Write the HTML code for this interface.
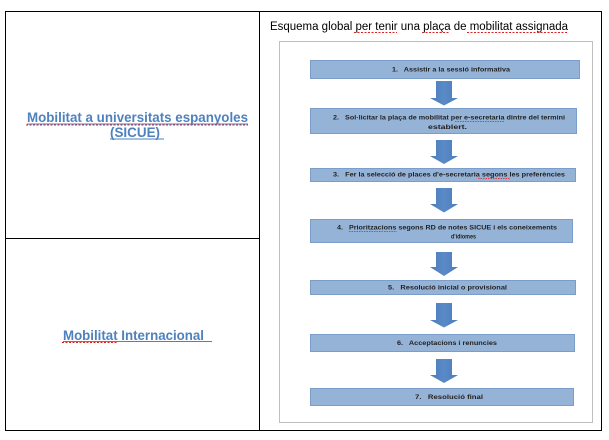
<!DOCTYPE html>
<html><head><meta charset="utf-8"><style>
html,body{margin:0;padding:0;background:#fff;width:609px;height:440px;overflow:hidden}
svg{display:block}
text{font-family:"Liberation Sans",Arial,sans-serif;white-space:pre}
.bt{font-size:6.5px;font-weight:bold;fill:#222}
.lk{font-size:13.5px;font-weight:bold;fill:#4f81bd}
</style></head><body>
<svg width="609" height="440" viewBox="0 0 609 440" xmlns="http://www.w3.org/2000/svg">
<defs>
<linearGradient id="ag" x1="0" y1="0" x2="1" y2="0">
<stop offset="0" stop-color="#4a7cba"/><stop offset="0.5" stop-color="#5a8bc7"/><stop offset="1" stop-color="#4a7cba"/>
</linearGradient>
<symbol id="arrow" viewBox="0 0 27 25" overflow="visible">
</symbol>
</defs>
<!-- table -->
<g stroke="#000" stroke-width="1" fill="none" shape-rendering="crispEdges">
<rect x="5.5" y="11.5" width="596" height="419"/>
<line x1="259.5" y1="11.5" x2="259.5" y2="430.5"/>
<line x1="5.5" y1="238.5" x2="259.5" y2="238.5"/>
</g>
<!-- left cells -->
<text class="lk" x="27" y="122" textLength="221" lengthAdjust="spacingAndGlyphs">Mobilitat a universitats espanyoles</text>
<line x1="27" y1="124" x2="248" y2="124" stroke="#4f81bd" stroke-width="1"/>
<line x1="26" y1="125" x2="248" y2="125" stroke="#e02020" stroke-width="1" stroke-dasharray="2,1.5"/>
<text class="lk" x="110" y="137" textLength="50" lengthAdjust="spacingAndGlyphs">(SICUE)</text>
<line x1="110" y1="139" x2="164" y2="139" stroke="#4f81bd" stroke-width="1"/>
<text class="lk" x="63" y="340" textLength="141" lengthAdjust="spacingAndGlyphs">Mobilitat Internacional</text>
<line x1="63" y1="341.5" x2="212" y2="341.5" stroke="#4f81bd" stroke-width="1"/>
<line x1="62" y1="342.5" x2="117" y2="342.5" stroke="#e02020" stroke-width="1" stroke-dasharray="2,1.5"/>
<!-- title -->
<text x="270" y="30" font-size="11.5" fill="#000" textLength="298" lengthAdjust="spacingAndGlyphs">Esquema global per tenir una plaça de mobilitat assignada</text>
<g stroke="#e02020" stroke-width="1" stroke-dasharray="2,1.5">
<line x1="354" y1="32.5" x2="397" y2="32.5"/>
<line x1="422" y1="32.5" x2="449" y2="32.5"/>
<line x1="467" y1="32.5" x2="567" y2="32.5"/>
</g>
<!-- frame -->
<rect x="279.5" y="41.5" width="313" height="381" fill="none" stroke="#bfbfbf" stroke-width="1" shape-rendering="crispEdges"/>
<!-- boxes -->
<g fill="#95b3d7" stroke="#7b9dc9" stroke-width="1" shape-rendering="crispEdges">
<rect x="310.5" y="60.5" width="269" height="18"/>
<rect x="310.5" y="108.5" width="266" height="25"/>
<rect x="310.5" y="168.5" width="265" height="13"/>
<rect x="310.5" y="219.5" width="262" height="23"/>
<rect x="310.5" y="280.5" width="265" height="14"/>
<rect x="310.5" y="334.5" width="264" height="17"/>
<rect x="310.5" y="388.5" width="263" height="17"/>
</g>
<!-- arrows -->
<g fill="url(#ag)">
<path d="M436,81 H452 V98 H458 L444,105.5 L430,98 H436 Z"/>
<path d="M436,140 H452 V156 H458 L444,164 L430,156 H436 Z"/>
<path d="M436,188 H452 V204 H458 L444,212.5 L430,204 H436 Z"/>
<path d="M436,252 H452 V267 H458 L444,276 L430,267 H436 Z"/>
<path d="M436,303 H452 V320 H458 L444,327.5 L430,320 H436 Z"/>
<path d="M436,359 H452 V375 H458 L444,383 L430,375 H436 Z"/>
</g>
<!-- box text -->
<text class="bt" x="392" y="71.5" textLength="118" lengthAdjust="spacingAndGlyphs">1.   Assistir a la sessió informativa</text>
<text class="bt" x="333" y="119.5" textLength="232" lengthAdjust="spacingAndGlyphs">2.   Sol·licitar la plaça de mobilitat per e-secretaria dintre del termini</text>
<text class="bt" x="428" y="129" textLength="39" lengthAdjust="spacingAndGlyphs">establert.</text>
<text class="bt" x="333" y="176.5" textLength="232" lengthAdjust="spacingAndGlyphs">3.   Fer la selecció de places d'e-secretaria segons les preferències</text>
<text class="bt" x="337" y="229.5" textLength="220" lengthAdjust="spacingAndGlyphs">4.   Prioritzacions segons RD de notes SICUE i els coneixements</text>
<text class="bt" x="451" y="238.5" textLength="25" lengthAdjust="spacingAndGlyphs">d'idiomes</text>
<text class="bt" x="388" y="289.5" textLength="119" lengthAdjust="spacingAndGlyphs">5.   Resolució inicial o provisional</text>
<text class="bt" x="397" y="345" textLength="100" lengthAdjust="spacingAndGlyphs">6.   Acceptacions i renuncies</text>
<text class="bt" x="415" y="399" textLength="68" lengthAdjust="spacingAndGlyphs">7.   Resolució final</text>
<g stroke="#e02020" stroke-width="0.8" stroke-dasharray="1.5,1">
<line x1="455" y1="121.5" x2="505" y2="121.5"/>
<line x1="478" y1="178.5" x2="510" y2="178.5"/>
<line x1="349" y1="231.5" x2="397" y2="231.5"/>
</g>
</svg>
</body></html>
